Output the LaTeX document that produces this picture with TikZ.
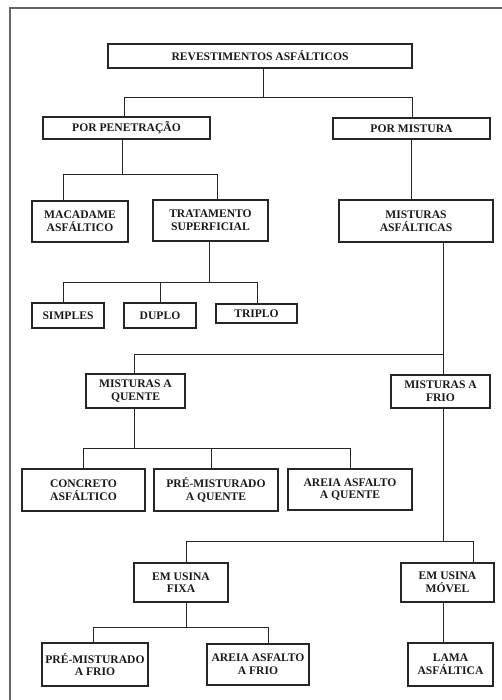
\documentclass[tikz,border=0pt]{standalone}
\usepackage{fontspec}
\setmainfont{Liberation Serif}
\begin{document}
\begin{tikzpicture}[x=1pt,y=-1pt,
  box/.style={draw=black!85,line width=1.2pt,rectangle,inner sep=0pt,align=center,
    font=\bfseries\fontsize{11.6}{12.6}\selectfont,text=black!90},
  link/.style={draw=black!85,line width=1pt}]
\useasboundingbox (0,0) rectangle (502,700);
\draw[black!60,line width=1.3pt] (10,700) -- (10,8) -- (502,8);
% boxes
\node[box,minimum width=304,minimum height=24] (rev) at (260,56) {REVESTIMENTOS ASFÁLTICOS};
\node[box,minimum width=167,minimum height=22] (pen) at (126.5,128) {POR PENETRAÇÃO};
\node[box,minimum width=157,minimum height=21] (mis) at (411.5,128.5) {POR MISTURA};
\node[box,minimum width=96,minimum height=41] (mac) at (80,221.5) {MACADAME\\ASFÁLTICO};
\node[box,minimum width=115,minimum height=41] (trat) at (210.5,220.5) {TRATAMENTO\\SUPERFICIAL};
\node[box,minimum width=154,minimum height=42] (masf) at (416,221) {MISTURAS\\ASFÁLTICAS};
\node[box,minimum width=72,minimum height=25] (simp) at (68,315.5) {SIMPLES};
\node[box,minimum width=72,minimum height=25] (dup) at (160,315.5) {DUPLO};
\node[box,minimum width=81,minimum height=19] (trip) at (256.5,313.5) {TRIPLO};
\node[box,minimum width=99,minimum height=34] (quen) at (135.5,391) {MISTURAS A\\QUENTE};
\node[box,minimum width=99,minimum height=33] (frio) at (440.5,391.5) {MISTURAS A\\FRIO};
\node[box,minimum width=123,minimum height=42] (conc) at (83.5,490) {CONCRETO\\ASFÁLTICO};
\node[box,minimum width=124,minimum height=42] (pmq) at (216,490) {PRÉ-MISTURADO\\A QUENTE};
\node[box,minimum width=124,minimum height=41] (aaq) at (350,489.5) {AREIA ASFALTO\\A QUENTE};
\node[box,minimum width=94,minimum height=39] (fixa) at (181,582.5) {EM USINA\\FIXA};
\node[box,minimum width=93,minimum height=39] (movel) at (447.5,582.5) {EM USINA\\MÓVEL};
\node[box,minimum width=106,minimum height=43] (pmf) at (95,664.5) {PRÉ-MISTURADO\\A FRIO};
\node[box,minimum width=102,minimum height=41] (aaf) at (258,664.5) {AREIA ASFALTO\\A FRIO};
\node[box,minimum width=85,minimum height=43] (lama) at (450.5,664.5) {LAMA\\ASFÁLTICA};
% bus levels
\coordinate (b1) at (0,98);
\coordinate (b2) at (0,175);
\coordinate (b3) at (0,282);
\coordinate (b4) at (0,354);
\coordinate (b5) at (0,448);
\coordinate (b6) at (0,541);
\coordinate (b7) at (0,627);
% connectors
\draw[link] ([xshift=3pt]rev.south) -- ([xshift=3pt]rev.south |- b1);
\draw[link] ([xshift=-2.5pt]pen.north) |- ([xshift=0.5pt]mis.north |- b1) -- ([xshift=0.5pt]mis.north);
\draw[link] ([xshift=-4.5pt]pen.south) -- ([xshift=-4.5pt]pen.south |- b2);
\draw[link] ([xshift=-17pt]mac.north) |- ([xshift=6.5pt]trat.north |- b2) -- ([xshift=6.5pt]trat.north);
\draw[link] (mis.south) -- (mis.south |- masf.north);
\draw[link] ([xshift=-1.5pt]trat.south) -- ([xshift=-1.5pt]trat.south |- b3);
\draw[link] ([xshift=-5pt]simp.north) |- ([xshift=0.5pt]trip.north |- b3) -- ([xshift=0.5pt]trip.north);
\draw[link] (dup.north) -- (dup.north |- b3);
\draw[link] ([xshift=27pt]masf.south) -- ([xshift=27pt]masf.south |- b4);
\draw[link] ([xshift=-1.5pt]quen.north) |- ([xshift=2.5pt]frio.north |- b4) -- ([xshift=2.5pt]frio.north);
\draw[link] ([xshift=-1.5pt]quen.south) -- ([xshift=-1.5pt]quen.south |- b5);
\draw[link] ([xshift=-0.5pt]conc.north) |- (aaq.north |- b5) -- (aaq.north);
\draw[link] ([xshift=-5pt]pmq.north) -- ([xshift=-5pt]pmq.north |- b5);
\draw[link] ([xshift=2.5pt]frio.south) -- ([xshift=2.5pt]frio.south |- b6);
\draw[link] ([xshift=5pt]fixa.north) |- ([xshift=25.5pt]movel.north |- b6) -- ([xshift=25.5pt]movel.north);
\draw[link] ([xshift=5pt]fixa.south) -- ([xshift=5pt]fixa.south |- b7);
\draw[link] ([xshift=-2pt]pmf.north) |- ([xshift=10pt]aaf.north |- b7) -- ([xshift=10pt]aaf.north);
\draw[link] ([xshift=-4.5pt]movel.south) -- ([xshift=-4.5pt]movel.south |- lama.north);
\end{tikzpicture}
\end{document}
